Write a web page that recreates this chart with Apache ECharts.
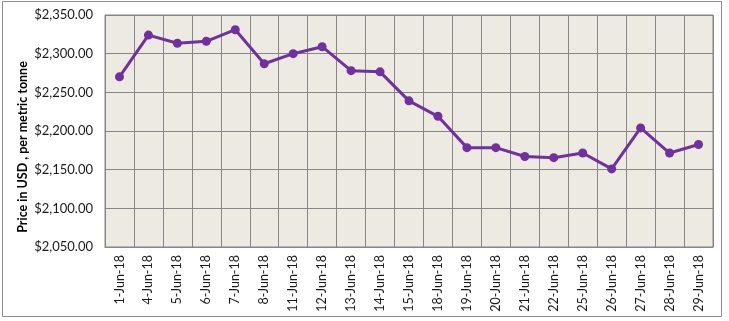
<!DOCTYPE html>
<html>
<head>
<meta charset="utf-8">
<script src="https://cdn.jsdelivr.net/npm/echarts@6/dist/echarts.min.js"></script>
<style>
  html, body { margin: 0; padding: 0; background: #fff; }
  #chart { width: 729px; height: 321px; }
</style>
</head>
<body>
<div id="chart"></div>
<script>
const dates = ['1-Jun-18', '4-Jun-18', '5-Jun-18', '6-Jun-18', '7-Jun-18', '8-Jun-18',
  '11-Jun-18', '12-Jun-18', '13-Jun-18', '14-Jun-18', '15-Jun-18', '18-Jun-18',
  '19-Jun-18', '20-Jun-18', '21-Jun-18', '22-Jun-18', '25-Jun-18', '26-Jun-18',
  '27-Jun-18', '28-Jun-18', '29-Jun-18'];
const prices = [2270, 2324, 2313.5, 2316, 2331, 2287, 2300, 2309, 2278, 2276.5, 2239,
  2219, 2178.5, 2178.5, 2167, 2165.5, 2171.5, 2151, 2204, 2171.5, 2182.5];
const yTitle = 'Price in USD , per metric tonne';

const chart = echarts.init(document.getElementById('chart'));

const fmt = v => '$' + v.toLocaleString('en-US', { minimumFractionDigits: 2, maximumFractionDigits: 2 });

chart.setOption({
  animation: false,
  textStyle: { fontFamily: 'Lato' },
  graphic: [{
    type: 'rect',
    shape: { x: 2.5, y: 1.5, width: 719, height: 315 },
    style: { fill: 'none', stroke: '#8c8c8c', lineWidth: 1 },
    silent: true
  }, {
    // axis title sits lower than the plot centre in the original
    type: 'text',
    x: 23,
    y: 147,
    rotation: Math.PI / 2,
    style: { text: yTitle, fontFamily: 'Lato', fontSize: 12.5, fontWeight: 'bold',
      fill: '#000', align: 'center', verticalAlign: 'middle' },
    silent: true
  }],
  grid: { left: 105, right: 16, top: 15, bottom: 74, show: true,
    backgroundColor: '#edeae2', borderColor: '#868686', borderWidth: 1 },
  xAxis: {
    type: 'category',
    data: dates,
    boundaryGap: true,
    axisLine: { lineStyle: { color: '#868686', width: 1 } },
    axisTick: { show: false },
    axisLabel: { rotate: 90, fontSize: 12.5, color: '#1a1a1a', margin: 8, interval: 0 },
    splitLine: { show: true, interval: 0, lineStyle: { color: '#868686', width: 1 } }
  },
  yAxis: {
    type: 'value',
    min: 2050,
    max: 2350,
    interval: 50,
    axisLine: { show: true, lineStyle: { color: '#868686' } },
    axisTick: { show: false },
    axisLabel: { formatter: fmt, fontSize: 13, color: '#1a1a1a', margin: 12 },
    splitLine: { lineStyle: { color: '#868686', width: 1 } }
  },
  series: [{
    type: 'line',
    data: prices,
    symbol: 'circle',
    symbolSize: 9,
    lineStyle: { color: '#7030a0', width: 3 },
    itemStyle: { color: '#7030a0' }
  }]
});
</script>
</body>
</html>
